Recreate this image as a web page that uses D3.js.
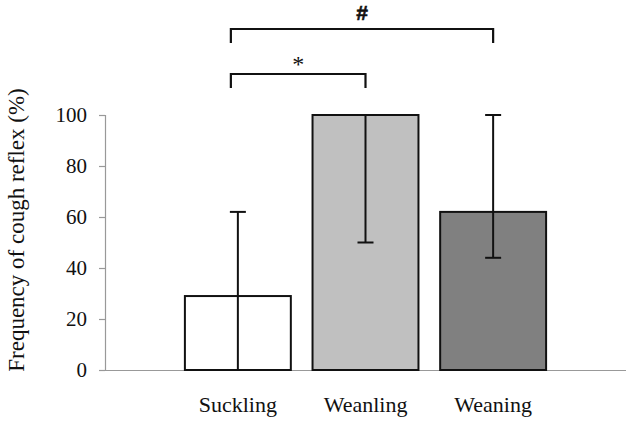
<!DOCTYPE html>
<html><head><meta charset="utf-8">
<script src="https://cdn.jsdelivr.net/npm/d3@7"></script>
<style>body{margin:0;background:#fff}svg{display:block}</style>
</head><body>
<svg id="c" width="630" height="421"></svg>
<script>
const categories = ["Suckling", "Weanling", "Weaning"];
const values = [29, 100, 62];
const errLow = [0, 50, 44];
const errHigh = [62, 100, 100];
const fills = ["#ffffff", "#c0c0c0", "#808080"];
const yTicks = [0, 20, 40, 60, 80, 100];
const brackets = [
  {from: "Suckling", to: "Weaning", label: "#", level: 1},
  {from: "Suckling", to: "Weanling", label: "*", level: 0}
];

const svg = d3.select("#c");
const x = d3.scaleBand().domain(categories).range([105, 626]).paddingInner(0.17).paddingOuter(0.626);
const y = d3.scaleLinear().domain([0, 100]).range([370, 115]);
const serif = "Liberation Serif, Times New Roman, serif";

// y axis
const ya = svg.append("g").attr("transform", "translate(105,0)")
  .call(d3.axisLeft(y).tickValues(yTicks).tickSize(6).tickPadding(12));
ya.attr("font-family", serif).attr("font-size", 21);
ya.select(".domain").attr("stroke", "#999").attr("stroke-width", 1.2);
ya.selectAll(".tick line").attr("stroke", "#999").attr("stroke-width", 1.2);
ya.selectAll(".tick text").attr("fill", "#111");

// x axis baseline
const xa = svg.append("g").attr("transform", "translate(0,370)")
  .call(d3.axisBottom(x).tickSize(0).tickPadding(26));
xa.attr("font-family", serif).attr("font-size", 22);
xa.select(".domain").attr("stroke", "#999").attr("stroke-width", 1.2).attr("d", "M105,0.5H626");
xa.selectAll(".tick text").attr("fill", "#111");

// bars
svg.append("g").selectAll("rect").data(categories).join("rect")
  .attr("x", d => x(d)).attr("width", x.bandwidth())
  .attr("y", (d, i) => y(values[i])).attr("height", (d, i) => y(0) - y(values[i]))
  .attr("fill", (d, i) => fills[i]).attr("stroke", "#111").attr("stroke-width", 2);

// error bars
const eg = svg.append("g").attr("stroke", "#111").attr("stroke-width", 2);
categories.forEach((c, i) => {
  const cx = x(c) + x.bandwidth() / 2;
  eg.append("line").attr("x1", cx).attr("x2", cx).attr("y1", y(errLow[i])).attr("y2", y(errHigh[i]));
  [errLow[i], errHigh[i]].forEach(v => {
    if (v > 0) eg.append("line").attr("x1", cx - 8).attr("x2", cx + 8).attr("y1", y(v)).attr("y2", y(v));
  });
});

// significance brackets
const bg = svg.append("g");
brackets.forEach(b => {
  const x1 = x(b.from) + x.bandwidth() / 2 - 7;
  const x2 = x(b.to) + x.bandwidth() / 2;
  const top = b.level === 1 ? 29 : 74;
  bg.append("path").attr("d", `M${x1},${top + 14}V${top}H${x2}V${top + 14}`)
    .attr("fill", "none").attr("stroke", "#111").attr("stroke-width", 2.2);
  const t = bg.append("text").attr("x", (x1 + x2) / 2).attr("y", b.level === 1 ? 20 : 72)
    .attr("text-anchor", "middle")
    .attr("font-family", b.level === 1 ? "Liberation Sans, Arial, sans-serif" : "Liberation Serif, serif")
    .attr("font-weight", b.level === 1 ? 700 : 400)
    .attr("font-size", b.level === 1 ? 21 : 24).attr("fill", "#111").text(b.label);
  if (b.level === 1) t.attr("stroke", "#111").attr("stroke-width", 0.6);
});

// y label
svg.append("text").attr("transform", "translate(24,230) rotate(-90)")
  .attr("text-anchor", "middle").attr("font-family", serif).attr("font-size", 23).attr("fill", "#111")
  .text("Frequency of cough reflex (%)");
</script>
</body></html>
